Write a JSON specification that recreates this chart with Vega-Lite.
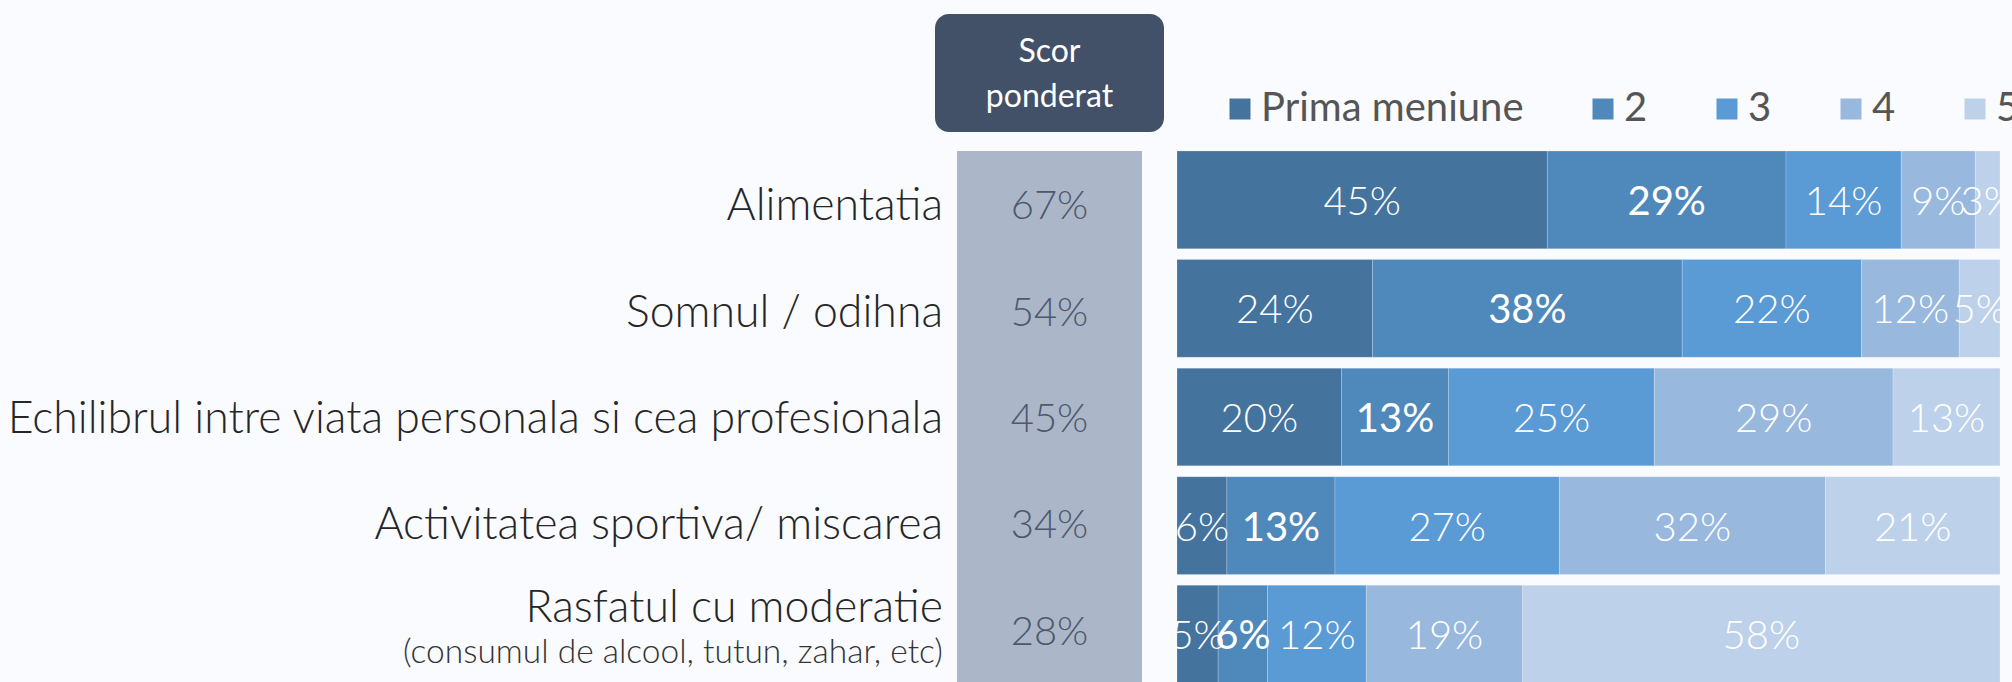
{
  "$schema": "https://vega.github.io/schema/vega-lite/v6.json",
  "background": "#f9fbfe",
  "padding": {"top": 13, "left": 0, "right": 0, "bottom": 0},
  "config": {"view": {"stroke": null}, "font": "Lato"},
  "datasets": {
    "rows": [
      {"cat": "Alimentatia", "label": "Alimentatia", "sub": "", "score": "67%"},
      {"cat": "Somnul / odihna", "label": "Somnul / odihna", "sub": "", "score": "54%"},
      {"cat": "Echilibrul intre viata personala si cea profesionala", "label": "Echilibrul intre viata personala si cea profesionala", "sub": "", "score": "45%"},
      {"cat": "Activitatea sportiva/ miscarea", "label": "Activitatea sportiva/ miscarea", "sub": "", "score": "34%"},
      {"cat": "Rasfatul cu moderatie", "label": "Rasfatul cu moderatie", "sub": "(consumul de alcool, tutun, zahar, etc)", "score": "28%"}
    ],
    "parts": [
      {"cat": "Alimentatia", "rank": 1, "rk": "Prima meniune", "v": 45},
      {"cat": "Alimentatia", "rank": 2, "rk": "2", "v": 29},
      {"cat": "Alimentatia", "rank": 3, "rk": "3", "v": 14},
      {"cat": "Alimentatia", "rank": 4, "rk": "4", "v": 9},
      {"cat": "Alimentatia", "rank": 5, "rk": "5", "v": 3},
      {"cat": "Somnul / odihna", "rank": 1, "rk": "Prima meniune", "v": 24},
      {"cat": "Somnul / odihna", "rank": 2, "rk": "2", "v": 38},
      {"cat": "Somnul / odihna", "rank": 3, "rk": "3", "v": 22},
      {"cat": "Somnul / odihna", "rank": 4, "rk": "4", "v": 12},
      {"cat": "Somnul / odihna", "rank": 5, "rk": "5", "v": 5},
      {"cat": "Echilibrul intre viata personala si cea profesionala", "rank": 1, "rk": "Prima meniune", "v": 20},
      {"cat": "Echilibrul intre viata personala si cea profesionala", "rank": 2, "rk": "2", "v": 13},
      {"cat": "Echilibrul intre viata personala si cea profesionala", "rank": 3, "rk": "3", "v": 25},
      {"cat": "Echilibrul intre viata personala si cea profesionala", "rank": 4, "rk": "4", "v": 29},
      {"cat": "Echilibrul intre viata personala si cea profesionala", "rank": 5, "rk": "5", "v": 13},
      {"cat": "Activitatea sportiva/ miscarea", "rank": 1, "rk": "Prima meniune", "v": 6},
      {"cat": "Activitatea sportiva/ miscarea", "rank": 2, "rk": "2", "v": 13},
      {"cat": "Activitatea sportiva/ miscarea", "rank": 3, "rk": "3", "v": 27},
      {"cat": "Activitatea sportiva/ miscarea", "rank": 4, "rk": "4", "v": 32},
      {"cat": "Activitatea sportiva/ miscarea", "rank": 5, "rk": "5", "v": 21},
      {"cat": "Rasfatul cu moderatie", "rank": 1, "rk": "Prima meniune", "v": 5},
      {"cat": "Rasfatul cu moderatie", "rank": 2, "rk": "2", "v": 6},
      {"cat": "Rasfatul cu moderatie", "rank": 3, "rk": "3", "v": 12},
      {"cat": "Rasfatul cu moderatie", "rank": 4, "rk": "4", "v": 19},
      {"cat": "Rasfatul cu moderatie", "rank": 5, "rk": "5", "v": 58}
    ]
  },
  "columns": 3,
  "align": "each",
  "bounds": "flush",
  "spacing": {"row": 19, "column": 13},
  "resolve": {"scale": {"color": "independent"}, "legend": {"color": "independent"}},
  "concat": [
    {
      "width": 1, "height": 1,
      "data": {"values": [{"t": ""}]},
      "mark": {"type": "text", "fontSize": 1},
      "encoding": {"text": {"field": "t"}}
    },
    {
      "width": 229, "height": 118,
      "view": {"fill": "#435168", "cornerRadius": 14, "stroke": null},
      "data": {"values": [{"h": "Scor ponderat"}]},
      "mark": {"type": "text", "lineBreak": " ", "color": "#ffffff", "fontSize": 32, "fontWeight": 400, "lineHeight": 45, "baseline": "middle", "align": "center", "dy": -21},
      "encoding": {"text": {"field": "h"}}
    },
    {
      "width": 1, "height": 1,
      "data": {"values": [{"t": ""}]},
      "mark": {"type": "text", "fontSize": 1},
      "encoding": {"text": {"field": "t"}}
    },
    {
      "width": 922, "height": 532,
      "data": {"name": "rows"},
      "encoding": {
        "y": {"field": "cat", "type": "nominal", "sort": null, "axis": null,
              "scale": {"paddingInner": 0.1, "paddingOuter": 0}}
      },
      "layer": [
        {
          "transform": [{"filter": "datum.sub == ''"}],
          "mark": {"type": "text", "align": "right", "baseline": "middle", "dx": 21, "dy": 3, "fontSize": 44.6, "fontWeight": 300, "color": "#262626"},
          "encoding": {"x": {"value": "width"}, "text": {"field": "label"}}
        },
        {
          "transform": [{"filter": "datum.sub != ''"}],
          "mark": {"type": "text", "align": "right", "baseline": "middle", "dx": 21, "dy": -21, "fontSize": 44.6, "fontWeight": 300, "color": "#262626"},
          "encoding": {"x": {"value": "width"}, "text": {"field": "label"}}
        },
        {
          "transform": [{"filter": "datum.sub != ''"}],
          "mark": {"type": "text", "align": "right", "baseline": "middle", "dx": 21, "dy": 23, "fontSize": 33.5, "fontWeight": 300, "color": "#333333"},
          "encoding": {"x": {"value": "width"}, "text": {"field": "sub"}}
        }
      ]
    },
    {
      "width": 229, "height": 532,
      "data": {"name": "rows"},
      "encoding": {
        "x": {"datum": "s", "type": "nominal", "axis": null, "scale": {"paddingInner": 0, "paddingOuter": 0.1223}}
      },
      "layer": [
        {
          "mark": {"type": "bar", "color": "#abb6c9"}
        },
        {
          "mark": {"type": "text", "baseline": "middle", "align": "center", "dy": 3, "fontSize": 40, "fontWeight": 300, "color": "#4d596c"},
          "encoding": {
            "y": {"field": "cat", "type": "nominal", "sort": null, "axis": null,
                  "scale": {"paddingInner": 0.1, "paddingOuter": 0}},
            "text": {"field": "score"}
          }
        }
      ]
    },
    {
      "width": 823, "height": 532,
      "data": {"name": "parts"},
      "transform": [
        {"stack": "v", "groupby": ["cat"], "sort": [{"field": "rank", "order": "ascending"}], "as": ["x0", "x1"], "offset": "normalize"},
        {"calculate": "(datum.x0 + datum.x1) / 2", "as": "xm"},
        {"calculate": "datum.v + '%'", "as": "lab"}
      ],
      "encoding": {
        "y": {"field": "cat", "type": "nominal", "sort": ["Alimentatia", "Somnul / odihna", "Echilibrul intre viata personala si cea profesionala", "Activitatea sportiva/ miscarea", "Rasfatul cu moderatie"], "axis": null,
              "scale": {"paddingInner": 0.1, "paddingOuter": 0}}
      },
      "layer": [
        {
          "mark": {"type": "bar", "stroke": "#ffffff", "strokeWidth": 0.5, "strokeOpacity": 0.4},
          "encoding": {
            "x": {"field": "x0", "type": "quantitative", "axis": null, "scale": {"domain": [0, 1], "nice": false}},
            "x2": {"field": "x1"},
            "color": {"field": "rk", "type": "nominal",
                      "scale": {"domain": ["Prima meniune", "2", "3", "4", "5"], "range": ["#44739e", "#4f88bb", "#5a9ad5", "#98b8de", "#bed1ea"]},
                      "legend": {"orient": "none", "legendX": 43, "legendY": -62, "direction": "horizontal", "title": null,
                                 "symbolType": "square", "symbolSize": 441, "symbolStrokeWidth": 0, "labelOffset": 1, "labelLimit": 500,
                                 "columnPadding": 59, "labelFontSize": 40, "labelFont": "Lato", "labelFontWeight": 400, "labelColor": "#555555"}}
          }
        },
        {
          "transform": [{"filter": "datum.rank != 2"}],
          "mark": {"type": "text", "clip": true, "baseline": "middle", "align": "center", "dy": 3, "fontSize": 40, "fontWeight": 300, "color": "#ffffff"},
          "encoding": {
            "x": {"field": "xm", "type": "quantitative", "scale": {"domain": [0, 1], "nice": false}},
            "text": {"field": "lab"}
          }
        },
        {
          "transform": [{"filter": "datum.rank == 2"}],
          "mark": {"type": "text", "clip": true, "baseline": "middle", "align": "center", "dy": 3, "fontSize": 40, "fontWeight": 400, "color": "#ffffff"},
          "encoding": {
            "x": {"field": "xm", "type": "quantitative", "scale": {"domain": [0, 1], "nice": false}},
            "text": {"field": "lab"}
          }
        }
      ]
    }
  ]
}
